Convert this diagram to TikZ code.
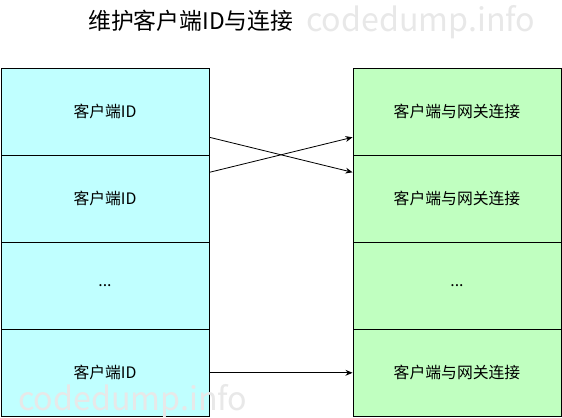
\documentclass[tikz,border=0pt]{standalone}
\usepackage{fontspec}
\setmainfont{Noto Sans CJK SC}
\usetikzlibrary{arrows.meta,calc}
\definecolor{idcyan}{HTML}{C0FFFF}
\definecolor{conngreen}{HTML}{C0FFC0}
\tikzset{
  cell/.style={draw=black, line width=0.8pt, minimum width=6.24cm, minimum height=2.61cm, inner sep=0pt, font=\fontsize{13.5}{16}\selectfont},
  idcell/.style={cell, fill=idcyan},
  conncell/.style={cell, fill=conngreen},
  maplink/.style={-{Stealth[length=6pt,width=5pt]}, line width=0.7pt},
  mark text/.style={anchor=west, inner sep=0pt, text=gray!18, font=\fontsize{27.5}{28}\selectfont},
}
\begin{document}
\begin{tikzpicture}[x=0.03cm,y=-0.03cm]
\useasboundingbox (0,0) rectangle (562,417);
\def\lx{105};
\def\rx{457};
\def\rowh{87};
\def\toprow{111.8};
\def\skiprow{...};
%\draw[help lines,step=10] (0,0) grid (562,417);

\node[anchor=west, inner sep=0pt, font=\fontsize{19.5}{22}\selectfont] (title) at (88,21) {维护客户端ID与连接};
\node[mark text] (marktop) at (306,22) {codedump.info}; % watermark

% the two columns, row by row
\foreach \i/\ltxt/\rtxt in {1/客户端ID/客户端与网关连接, 2/客户端ID/客户端与网关连接, 3/\skiprow/\skiprow, 4/客户端ID/客户端与网关连接}{
      \node[idcell] (l\i) at (\lx,{\toprow+(\i-1)*\rowh}) {\ltxt};
      \node[conncell] (r\i) at (\rx,{\toprow+(\i-1)*\rowh}) {\rtxt};
      }

\draw[maplink] ($(l1.east)+(0,25.5)$) -- ($(r2.west)+(0,-26.5)$);
\draw[maplink] ($(l2.east)+(0,-26.5)$) -- ($(r1.west)+(0,25.5)$);
\draw[maplink] (l4.east) -- (r4.west);

\node[mark text] (markbot) at (18,401) {codedump.info};
\end{tikzpicture}
\end{document}
